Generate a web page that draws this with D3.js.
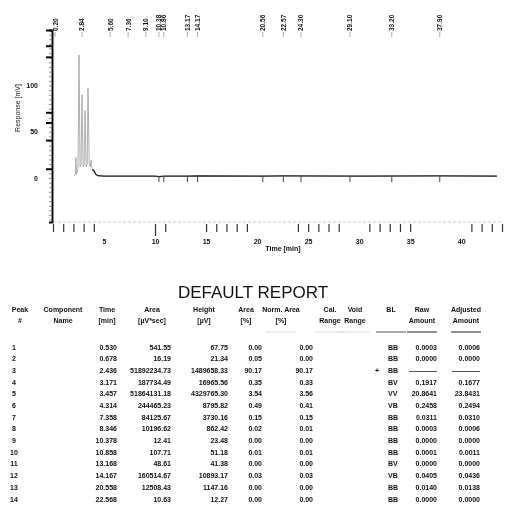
<!DOCTYPE html>
<html>
<head>
<meta charset="utf-8">
<script src="https://cdn.jsdelivr.net/npm/d3@7"></script>
<style>
  body { margin: 0; background: #fff; }
  svg { display: block; font-family: "Liberation Sans", Arial, sans-serif; }
</style>
</head>
<body>
<div id="container"></div>
<script>
/* DATA */
// chromatogram trace
const traceTime = [2.10, 2.20, 2.25, 2.30, 2.45, 2.55, 2.65, 2.75, 2.84, 2.95, 3.05, 3.14, 3.25, 3.35, 3.43, 3.55, 3.65, 3.73, 3.85, 4.00, 4.20, 4.40, 5.0, 10.0, 10.4, 10.9, 13.2, 14.2, 20.5, 22.6, 30.0, 37.9, 43.5];
const traceSignal = [2, 5, 22, 4, 10, 133, 12, 15, 90, 12, 14, 73, 12, 15, 97, 14, 12, 19, 9, 8, 4, 2.5, 2, 2, 1.5, 2, 2, 2.3, 2, 2.2, 2, 2.3, 2];

// peak annotations at the top
const peakTimes = [0.20, 2.84, 5.60, 7.36, 9.10, 10.38, 10.86, 13.17, 14.17, 20.56, 22.57, 24.30, 29.10, 33.20, 37.90];

const xTicks = [5, 10, 15, 20, 25, 30, 35, 40];
const xMinorTicks = [0, 1, 2, 3, 4, 10, 11, 15, 16, 17, 18, 19, 24, 25, 26, 27, 28, 31, 32, 33, 34, 35, 41, 42, 43, 44];
const yTicks = [0, 50, 100];
const yLongTicks = [10, 41, 60, 71, 131, 143, 160];

// report table
const peakNo = [1, 2, 3, 4, 5, 6, 7, 8, 9, 10, 11, 12, 13, 14];
const compName = ["", "", "", "", "", "", "", "", "", "", "", "", "", ""];
const retTime = ["0.530", "0.678", "2.436", "3.171", "3.457", "4.314", "7.358", "8.346", "10.378", "10.858", "13.168", "14.167", "20.558", "22.568"];
const area = ["541.55", "16.19", "51892234.73", "187734.49", "51864131.18", "244465.23", "84125.67", "10196.62", "12.41", "107.71", "48.61", "160514.67", "12508.43", "10.63"];
const height = ["67.75", "21.34", "1489658.33", "16965.56", "4329765.30", "8795.82", "3730.16", "862.42", "23.48", "51.18", "41.38", "10893.17", "1147.16", "12.27"];
const areaPct = ["0.00", "0.05", "90.17", "0.35", "3.54", "0.49", "0.15", "0.02", "0.00", "0.01", "0.00", "0.03", "0.00", "0.00"];
const normAreaPct = ["0.00", "0.00", "90.17", "0.33", "3.56", "0.41", "0.15", "0.01", "0.00", "0.01", "0.00", "0.03", "0.00", "0.00"];
const calRange = ["", "", "", "", "", "", "", "", "", "", "", "", "", ""];
const voidRange = ["", "", "+", "", "", "", "", "", "", "", "", "", "", ""];
const baseline = ["BB", "BB", "BB", "BV", "VV", "VB", "BB", "BB", "BB", "BB", "BV", "VB", "BB", "BB"];
const rawAmount = ["0.0003", "0.0000", "————", "0.1917", "20.8641", "0.2458", "0.0311", "0.0003", "0.0000", "0.0001", "0.0000", "0.0405", "0.0140", "0.0000"];
const adjAmount = ["0.0006", "0.0000", "————", "0.1677", "23.8431", "0.2494", "0.0310", "0.0006", "0.0000", "0.0011", "0.0000", "0.0436", "0.0138", "0.0000"];

/* CONSTANTS */
const width = 507, height_px = 508;

const svg = d3.select("#container")
  .append("svg")
  .attr("width", width)
  .attr("height", height_px)

svg.append("rect").attr("width", width).attr("height", height_px).attr("fill", "#fff")

// slight softening, the original is a scan
svg.append("defs").append("filter")
  .attr("id", "soft")
  .append("feGaussianBlur").attr("stdDeviation", 0.3)

const root = svg.append("g").attr("filter", "url(#soft)")

/* SCALES */
const xScale = d3.scaleLinear()
  .domain([0, 44])
  .range([53, 502])

const yScale = d3.scaleLinear()
  .domain([-47.6, 160])
  .range([222, 30])

/* AXES */
// faint x baseline + minute ticks
root.append("line")
  .attr("x1", 53).attr("x2", 502)
  .attr("y1", 222).attr("y2", 222)
  .attr("stroke", "#cfcfcf").attr("stroke-dasharray", "3,2")

root.append("g")
  .attr("transform", "translate(0,222)")
  .call(d3.axisBottom(xScale).tickValues(xMinorTicks).tickSize(10).tickFormat(""))
  .call(g => g.select(".domain").remove())
  .call(g => g.selectAll(".tick line").attr("stroke", "#333").attr("stroke-width", 1.2).attr("y1", 2)
    .filter(d => d === 10).attr("y2", 14))

root.append("g")
  .attr("transform", "translate(0,222)")
  .call(d3.axisBottom(xScale).tickValues(xTicks).tickSize(0).tickPadding(17))
  .call(g => g.select(".domain").remove())
  .call(g => g.selectAll(".tick text").attr("font-size", 7).attr("font-weight", "bold").attr("fill", "#111")
    .attr("font-family", "Liberation Sans, Arial, sans-serif"))

root.append("text")
  .attr("x", 283).attr("y", 251)
  .attr("text-anchor", "middle")
  .attr("font-size", 7).attr("font-weight", "bold").attr("fill", "#111")
  .text("Time [min]")

// y axis
root.append("g")
  .attr("transform", "translate(52,0)")
  .call(d3.axisLeft(yScale).tickValues(d3.range(-45, 161, 5)).tickSize(3).tickFormat(""))
  .call(g => g.select(".domain").attr("stroke", "#111").attr("stroke-width", 2))
  .call(g => g.selectAll(".tick line").attr("stroke", "#777").attr("stroke-width", 0.8))

root.append("g")
  .attr("transform", "translate(52,0)")
  .call(d3.axisLeft(yScale).tickValues(yLongTicks).tickSize(6).tickFormat(""))
  .call(g => g.select(".domain").remove())
  .call(g => g.selectAll(".tick line").attr("stroke", "#111").attr("stroke-width", 2))

root.append("g")
  .attr("transform", "translate(52,0)")
  .call(d3.axisLeft(yScale).tickValues(yTicks).tickSize(0).tickPadding(14))
  .call(g => g.select(".domain").remove())
  .call(g => g.selectAll(".tick text").attr("font-size", 7).attr("font-weight", "bold").attr("fill", "#111")
    .attr("font-family", "Liberation Sans, Arial, sans-serif"))

root.append("text")
  .attr("transform", "translate(20,108) rotate(-90)")
  .attr("text-anchor", "middle")
  .attr("font-size", 7).attr("fill", "#222")
  .text("Response [mV]")

/* TRACE */
const trace = traceTime.map((t, i) => ({ t: t, v: traceSignal[i] }))
const line = d3.line().x(d => xScale(d.t)).y(d => yScale(d.v))

// peaks are faint on the scan, baseline is dark
root.append("path")
  .datum(trace)
  .attr("fill", "none")
  .attr("stroke", "#9a9a9a")
  .attr("stroke-width", 0.8)
  .attr("d", line)

root.append("path")
  .datum(trace.filter(d => d.t >= 3.85))
  .attr("fill", "none")
  .attr("stroke", "#222")
  .attr("stroke-width", 1.3)
  .attr("d", line)

// peak start markers on the baseline
root.selectAll("line.pk")
  .data(peakTimes.filter(t => t > 9.5))
  .join("line")
  .attr("class", "pk")
  .attr("x1", d => xScale(d)).attr("x2", d => xScale(d))
  .attr("y1", yScale(2)).attr("y2", yScale(2) + 6)
  .attr("stroke", "#444")

// rotated peak labels
const lbl = root.selectAll("g.plab")
  .data(peakTimes)
  .join("g")
  .attr("class", "plab")
  .attr("transform", d => `translate(${xScale(d)},0)`)
lbl.append("text")
  .attr("transform", "translate(2.5,31) rotate(-90)")
  .attr("font-size", 6.5).attr("font-weight", "bold").attr("fill", "#111")
  .text(d => d.toFixed(2))
lbl.append("line")
  .attr("y1", 32).attr("y2", 37)
  .attr("stroke", "#aaa")

/* REPORT TABLE */
root.append("text")
  .attr("x", 253).attr("y", 298)
  .attr("text-anchor", "middle")
  .attr("font-size", 17).attr("fill", "#111")
  .text("DEFAULT REPORT")

const columns = [
  { h: ["Peak", "#"], hx: 20, x: 14, anchor: "middle", vals: peakNo, line: null },
  { h: ["Component", "Name"], hx: 63, x: 63, anchor: "middle", vals: compName, line: null },
  { h: ["Time", "[min]"], hx: 107, x: 117, anchor: "end", vals: retTime, line: null },
  { h: ["Area", "[µV*sec]"], hx: 152, x: 171, anchor: "end", vals: area, line: null },
  { h: ["Height", "[µV]"], hx: 204, x: 228, anchor: "end", vals: height, line: null },
  { h: ["Area", "[%]"], hx: 246, x: 262, anchor: "end", vals: areaPct, line: null },
  { h: ["Norm. Area", "[%]"], hx: 281, x: 313, anchor: "end", vals: normAreaPct, line: "#ddd" },
  { h: ["Cal.", "Range"], hx: 330, x: 330, anchor: "middle", vals: calRange, line: "#ddd" },
  { h: ["Void", "Range"], hx: 355, x: 377, anchor: "middle", vals: voidRange, line: "#ddd" },
  { h: ["BL", ""], hx: 391, x: 388, anchor: "start", vals: baseline, line: "#555" },
  { h: ["Raw", "Amount"], hx: 422, x: 437, anchor: "end", vals: rawAmount, line: "#222" },
  { h: ["Adjusted", "Amount"], hx: 466, x: 480, anchor: "end", vals: adjAmount, line: "#222" }
]

const rowY = d3.scalePoint()
  .domain(peakNo)
  .range([349.5, 501.5])

const colG = root.selectAll("g.col")
  .data(columns)
  .join("g")
  .attr("class", "col")
  .attr("font-size", 7).attr("font-weight", "bold").attr("fill", "#111")

colG.selectAll("text.h")
  .data(c => c.h.map((s, i) => ({ s: s, i: i, x: c.hx })))
  .join("text")
  .attr("class", "h")
  .attr("x", d => d.x)
  .attr("y", d => 312 + d.i * 11)
  .attr("text-anchor", "middle")
  .text(d => d.s)

colG.filter(c => c.line)
  .append("line")
  .attr("x1", c => c.hx - 15).attr("x2", c => c.hx + 15)
  .attr("y1", 332).attr("y2", 332)
  .attr("stroke", c => c.line).attr("stroke-width", 1)

colG.selectAll("text.v")
  .data(c => c.vals.map((v, i) => ({ v: v, row: peakNo[i], x: c.x, anchor: c.anchor })))
  .join("text")
  .attr("class", "v")
  .attr("x", d => d.x)
  .attr("y", d => rowY(d.row))
  .attr("text-anchor", d => d.anchor)
  .text(d => d.v)
</script>
</body>
</html>
